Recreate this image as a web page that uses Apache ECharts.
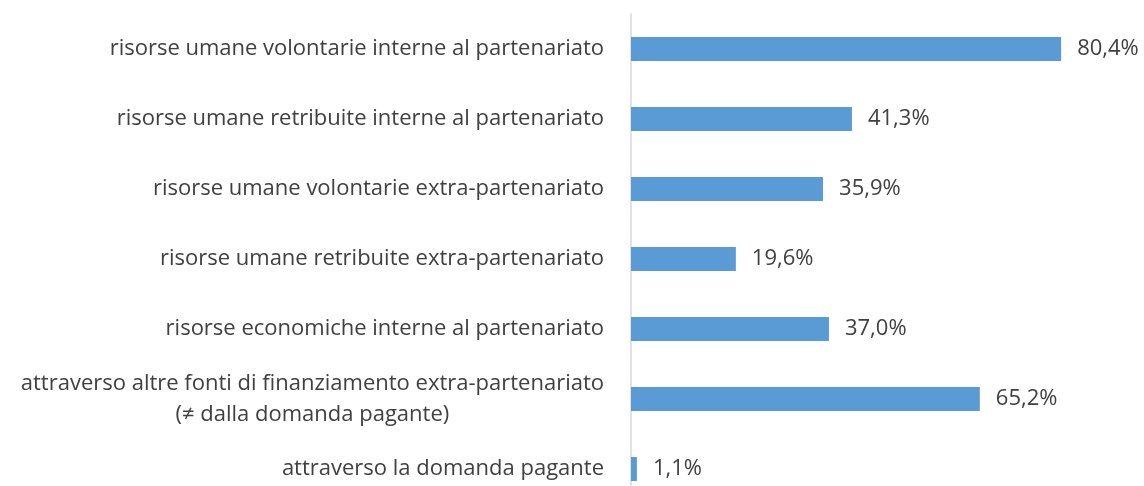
<!DOCTYPE html>
<html>
<head>
<meta charset="utf-8">
<script src="https://cdn.jsdelivr.net/npm/echarts@6/dist/echarts.min.js"></script>
<style>
html, body { margin: 0; padding: 0; background: #fff; overflow: hidden; }
#chart { width: 1144px; height: 520px; }
</style>
</head>
<body>
<div id="chart"></div>
<script>
// categorie (dall'alto verso il basso)
var categories = [
	'risorse umane volontarie interne al partenariato',
	'risorse umane retribuite interne al partenariato',
	'risorse umane volontarie extra-partenariato',
	'risorse umane retribuite extra-partenariato',
	'risorse economiche interne al partenariato',
	'attraverso altre fonti di finanziamento extra-partenariato\n(≠ dalla domanda pagante)',
	'attraverso la domanda pagante'
];
var values = [80.4, 41.3, 35.9, 19.6, 37.0, 65.2, 1.1];

var myChart = echarts.init(document.getElementById('chart'));

var fontName = '"Open Sans", "Noto Sans", sans-serif';

// il grafico originale e' tagliato in basso: la griglia esce dalla pagina
var option = {
	animation: false,
	grid: {
		left: 631,
		top: 14,
		width: 481.5,
		height: 490
	},
	xAxis: {
		type: 'value',
		min: 0,
		max: 90,
		show: false
	},
	yAxis: {
		type: 'category',
		inverse: true,
		data: categories,
		axisLine: { lineStyle: { color: '#d9d9d9', width: 1.5 } },
		axisTick: { show: false },
		axisLabel: {
			margin: 27,
			color: '#404040',
			fontFamily: fontName,
			fontSize: 22,
			formatter: function (v) {
				return v.split('\n').map(function (s) { return '{c|' + s + '}'; }).join('\n');
			},
			rich: {
				c: {
					align: 'center',
					color: '#404040',
					fontFamily: fontName,
					fontSize: 22,
					lineHeight: 31
				}
			}
		}
	},
	series: [{
		type: 'bar',
		data: values,
		barWidth: 24,
		itemStyle: { color: '#5b9bd5' },
		label: {
			show: true,
			position: 'right',
			distance: 16,
			color: '#404040',
			fontFamily: fontName,
			fontSize: 22,
			formatter: function (p) {
				return p.value.toFixed(1).replace('.', ',') + '%';
			}
		}
	}]
};
myChart.setOption(option);
</script>
</body>
</html>
